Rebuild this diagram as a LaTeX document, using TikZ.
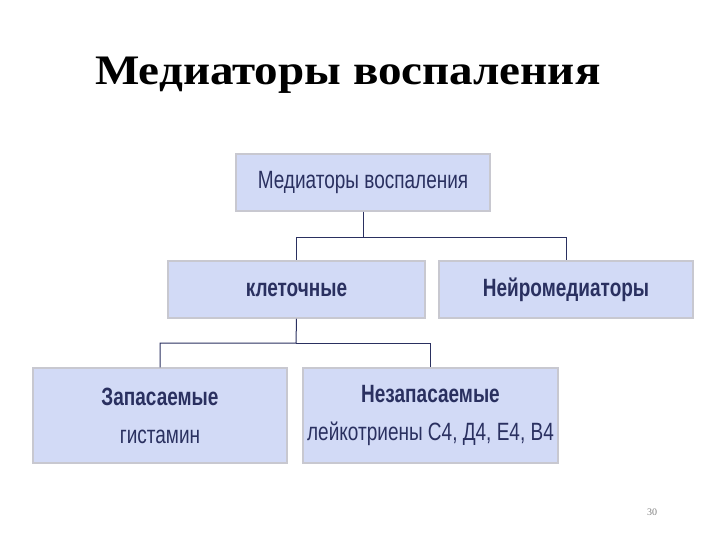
\documentclass[tikz,border=0pt]{standalone}
\usepackage{fontspec}
\setmainfont{Liberation Sans}
\newfontfamily\titlefont{Liberation Serif}
\usepackage{graphicx}
\definecolor{boxfill}{HTML}{D2DAF6}
\definecolor{boxline}{HTML}{C8C8D0}
\definecolor{txt}{HTML}{2A3060}
\definecolor{conn}{HTML}{2A3060}
\tikzset{box/.style={draw=boxline,line width=1.5pt,fill=boxfill,text=txt,font=\fontsize{25}{30}\selectfont\bfseries,align=center,inner sep=0pt},
conn/.style={draw=conn,line width=1pt}}
\newcommand\nar[1]{\scalebox{0.76}[1]{#1}}
\begin{document}
\begin{tikzpicture}[x=1pt,y=-1pt]
\useasboundingbox (0,0) rectangle (720,540);
\node[font=\titlefont\bfseries\fontsize{42}{48}\selectfont,text=black,anchor=base west,inner sep=0pt] (title) at (95,85) {\scalebox{1.12}[1]{Медиаторы воспаления}};
\node[box,minimum width=254,minimum height=57,font=\fontsize{25}{30}\selectfont] (top) at (363,182.5) {\nar{Медиаторы воспаления}};
\node[box,minimum width=257,minimum height=57] (cell) at (296.5,289.5) {\nar{клеточные}};
\node[box,minimum width=254,minimum height=57] (neuro) at (566,289.5) {\nar{Нейромедиаторы}};
\node[box,minimum width=254,minimum height=95] (store) at (160,415.5) {\nar{Запасаемые}\\[8pt]\nar{\mdseries гистамин}};
\node[box,minimum width=255,minimum height=95] (nonstore) at (430.5,415.5) {\nar{Незапасаемые}\\[8pt]\nar{\mdseries лейкотриены С4, Д4, Е4, В4}};
\coordinate (j1) at (363,237);
\coordinate (j2) at (296,343);
\draw[conn] (top.south) -- (j1) -| (cell.north);
\draw[conn] (j1) -| (neuro.north);
\draw[conn] (cell.south) -- (j2) -| (store.north);
\draw[conn] (j2) -| (nonstore.north);
\node[text=gray,font=\titlefont\fontsize{10}{12}\selectfont] (pg) at (652,512) {30};
\end{tikzpicture}
\end{document}
